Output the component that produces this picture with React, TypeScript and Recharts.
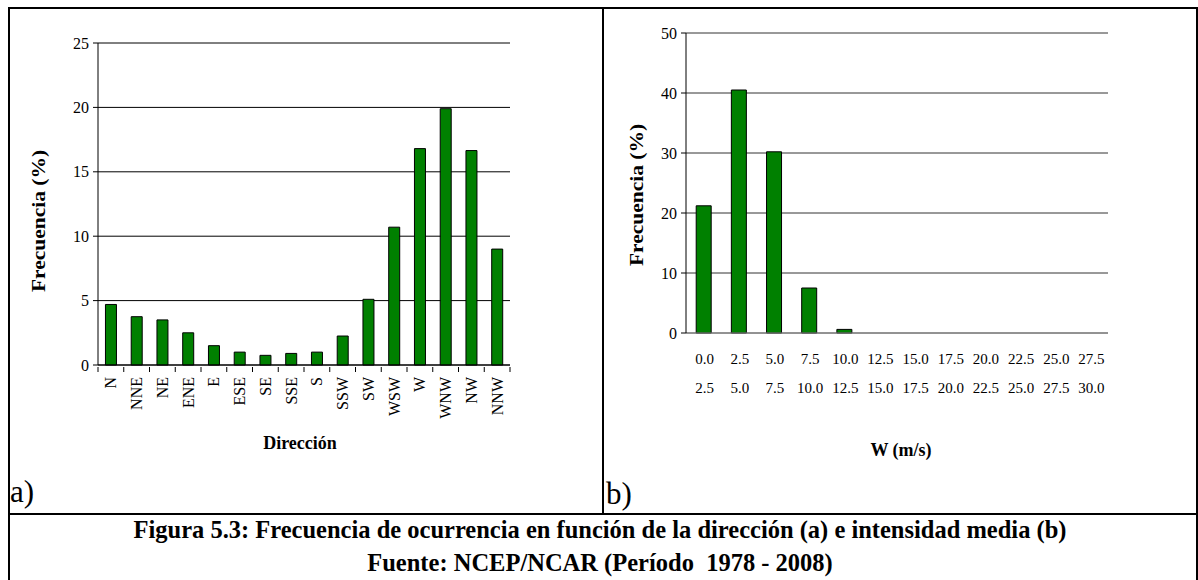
import React from "react";
import { Bar, BarChart, CartesianGrid, XAxis, YAxis } from "recharts";

// --- data -----------------------------------------------------------------

const directions = [
  "N", "NNE", "NE", "ENE", "E", "ESE", "SE", "SSE",
  "S", "SSW", "SW", "WSW", "W", "WNW", "NW", "NNW",
];
const directionFreq = [
  4.7, 3.75, 3.5, 2.5, 1.5, 1.0, 0.75, 0.9,
  1.0, 2.25, 5.1, 10.7, 16.8, 19.9, 16.65, 9.0,
];
const directionTicks = [0, 5, 10, 15, 20, 25];

const speedFrom = ["0.0", "2.5", "5.0", "7.5", "10.0", "12.5", "15.0", "17.5", "20.0", "22.5", "25.0", "27.5"];
const speedTo = ["2.5", "5.0", "7.5", "10.0", "12.5", "15.0", "17.5", "20.0", "22.5", "25.0", "27.5", "30.0"];
const speedFreq = [21.2, 40.5, 30.2, 7.5, 0.6, 0, 0, 0, 0, 0, 0, 0];
const speedTicks = [0, 10, 20, 30, 40, 50];

const captionLines = [
  "Figura 5.3: Frecuencia de ocurrencia en función de la dirección (a) e intensidad media (b)",
  "Fuente: NCEP/NCAR (Período  1978 - 2008)",
];

const directionData = directions.map((d, i) => ({ dir: d, freq: directionFreq[i] }));
const speedData = speedFrom.map((f, i) => ({ bin: `${f}-${speedTo[i]}`, freq: speedFreq[i] }));

// --- styling --------------------------------------------------------------

const SERIF = '"Liberation Serif", "Times New Roman", serif';
const BAR_GREEN = "#008000";
const FRAME_GRAY = "#8c8c8c";

const TICK_Y = { fill: "#000", fontSize: 16, fontFamily: SERIF };

// plot-area width, used only to place Excel-style boundary ticks
const PLOT_A_W = 412;
const BAND_A = PLOT_A_W / directions.length;

function DirectionTick(props: any) {
  const { x, y, payload, index } = props;
  const half = BAND_A / 2;
  return (
    <g>
      {index === 0 && (
        <line x1={x - half} x2={x - half} y1={y} y2={y + 5} stroke="#000" />
      )}
      <line x1={x + half} x2={x + half} y1={y} y2={y + 5} stroke="#000" />
      <text
        x={x}
        y={y + 10}
        transform={`rotate(-90, ${x}, ${y + 10})`}
        textAnchor="end"
        dominantBaseline="central"
        fontFamily={SERIF}
        fontSize={16}
        fill="#000"
      >
        {payload.value}
      </text>
    </g>
  );
}

function SpeedTick(props: any) {
  const { x, y, index } = props;
  return (
    <g fontFamily={SERIF} fontSize={15} fill="#000">
      <text x={x + 1} y={y + 24} textAnchor="middle" dominantBaseline="central">
        {speedFrom[index]}
      </text>
      <text x={x + 1} y={y + 53} textAnchor="middle" dominantBaseline="central">
        {speedTo[index]}
      </text>
    </g>
  );
}

function abs(left: number, top: number, extra: React.CSSProperties = {}): React.CSSProperties {
  return { position: "absolute", left, top, ...extra };
}

function RotatedTitle({ cx, cy, text }: { cx: number; cy: number; text: string }) {
  return (
    <div
      style={abs(cx, cy, {
        transform: "translate(-50%, -50%) rotate(-90deg) scaleX(1.13)",
        whiteSpace: "nowrap",
        fontFamily: SERIF,
        fontWeight: 700,
        fontSize: 19,
        lineHeight: 1,
      })}
    >
      {text}
    </div>
  );
}

function CenteredTitle({ cx, top, text, size }: { cx: number; top: number; text: string; size: number }) {
  return (
    <div
      style={abs(cx, top, {
        transform: "translateX(-50%)",
        whiteSpace: "pre",
        fontFamily: SERIF,
        fontWeight: 700,
        fontSize: size,
        lineHeight: 1,
      })}
    >
      {text}
    </div>
  );
}

export default function App() {
  return (
    <div style={abs(0, 0, { width: 1198, height: 580, background: "#fff", overflow: "hidden" })}>
      {/* frame */}
      <div style={abs(8, 7, { width: 1190, height: 2, background: "#000" })} />
      <div style={abs(8, 7, { width: 2, height: 573, background: "#000" })} />
      <div style={abs(1196, 7, { width: 2, height: 573, background: "#000" })} />
      <div style={abs(602, 7, { width: 2, height: 507, background: "#000" })} />
      <div style={abs(8, 513, { width: 1190, height: 2, background: "#000" })} />

      {/* (a) frequency by direction */}
      <div style={abs(0, 0)}>
        <BarChart
          width={600}
          height={512}
          data={directionData}
          margin={{ top: 43, right: 90, bottom: 0, left: 58 }}
          barCategoryGap="29%"
        >
          <CartesianGrid vertical={false} stroke="#000" xAxisId="main" yAxisId="main" />
          <XAxis
            xAxisId="main"
            dataKey="dir"
            height={147}
            interval={0}
            tickSize={0}
            tickLine={false}
            axisLine={{ stroke: "#000" }}
            tick={<DirectionTick />}
          />
          <XAxis xAxisId="top" orientation="top" dataKey="dir" height={0} tick={false} tickLine={false} axisLine={{ stroke: FRAME_GRAY }} />
          <YAxis
            yAxisId="main"
            width={40}
            domain={[0, 25]}
            ticks={directionTicks}
            interval={0}
            tickSize={5}
            tickMargin={4}
            tick={TICK_Y}
            tickLine={{ stroke: "#000" }}
            axisLine={{ stroke: "#000" }}
          />
          <YAxis yAxisId="right" orientation="right" width={0} tick={false} tickLine={false} axisLine={{ stroke: FRAME_GRAY }} />
          <Bar
            xAxisId="main"
            yAxisId="main"
            dataKey="freq"
            fill={BAR_GREEN}
            stroke="#000"
            strokeWidth={1}
            isAnimationActive={false}
          />
        </BarChart>
      </div>
      <RotatedTitle cx={38} cy={221} text="Frecuencia (%)" />
      <CenteredTitle cx={300} top={434} text="Dirección" size={18} />
      <div style={abs(10, 476, { fontFamily: SERIF, fontSize: 31, lineHeight: 1 })}>a)</div>

      {/* (b) frequency by mean speed */}
      <div style={abs(604, 0)}>
        <BarChart
          width={594}
          height={512}
          data={speedData}
          margin={{ top: 33, right: 90, bottom: 0, left: 42 }}
          barCategoryGap="29%"
        >
          <CartesianGrid vertical={false} stroke="#333" xAxisId="main" yAxisId="main" />
          <XAxis
            xAxisId="main"
            dataKey="bin"
            height={179}
            interval={0}
            tickSize={0}
            tickLine={false}
            axisLine={{ stroke: FRAME_GRAY }}
            tick={<SpeedTick />}
          />
          <XAxis xAxisId="top" orientation="top" dataKey="bin" height={0} tick={false} tickLine={false} axisLine={{ stroke: FRAME_GRAY }} />
          <YAxis
            yAxisId="main"
            width={40}
            domain={[0, 50]}
            ticks={speedTicks}
            interval={0}
            tickSize={5}
            tickMargin={4}
            tick={TICK_Y}
            tickLine={{ stroke: "#000" }}
            axisLine={{ stroke: "#000" }}
          />
          <YAxis yAxisId="right" orientation="right" width={0} tick={false} tickLine={false} axisLine={{ stroke: FRAME_GRAY }} />
          <Bar
            xAxisId="main"
            yAxisId="main"
            dataKey="freq"
            fill={BAR_GREEN}
            stroke="#000"
            strokeWidth={1}
            isAnimationActive={false}
          />
        </BarChart>
      </div>
      <RotatedTitle cx={636} cy={195} text="Frecuencia (%)" />
      <CenteredTitle cx={901} top={441} text="W (m/s)" size={18} />
      <div style={abs(606, 478, { fontFamily: SERIF, fontSize: 31, lineHeight: 1 })}>b)</div>

      {/* caption */}
      <CenteredTitle cx={600} top={518} text={captionLines[0]} size={24.5} />
      <CenteredTitle cx={600} top={551} text={captionLines[1]} size={24.5} />
    </div>
  );
}
